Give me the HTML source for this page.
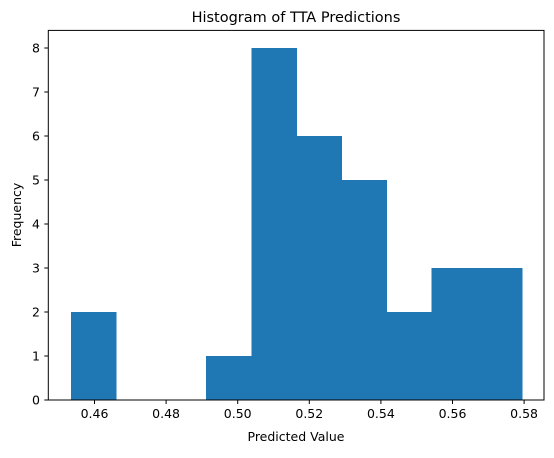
<!DOCTYPE html>
<html><head><meta charset="utf-8"><style>
body{margin:0;background:#fff}
svg text{font-family:"DejaVu Sans","Liberation Sans",sans-serif;fill:#000}
</style></head><body>
<svg id="c" width="554" height="453" viewBox="0 0 554 453">
<rect x="0" y="0" width="554" height="453" fill="#fff"/>
<text x="296" y="22" font-size="14.5" text-anchor="middle">Histogram of TTA Predictions</text>
<text x="296" y="441" font-size="12.5" text-anchor="middle">Predicted Value</text>
<text x="0" y="0" font-size="12.5" text-anchor="middle" transform="translate(21,215) rotate(-90)">Frequency</text>
<g id="bars" shape-rendering="crispEdges"></g><g id="xt"></g><g id="yt"></g>
<rect x="48.3" y="30.4" width="495.7" height="369.6" fill="none" stroke="#000" stroke-width="1"/>
</svg>
<script>
const binStart=0.4534;
const binWidth=0.0126;
const counts=[2,0,0,1,8,6,5,2,3,3];
const xTicks=[0.46,0.48,0.50,0.52,0.54,0.56,0.58];
const xTickLabels=["0.46","0.48","0.50","0.52","0.54","0.56","0.58"];
const yTicks=[0,1,2,3,4,5,6,7,8];
const NS="http://www.w3.org/2000/svg";
const X=v=>94.5+(v-0.46)*3580;
const Y=v=>400-v*44;
const bars=document.getElementById('bars'),xt=document.getElementById('xt'),yt=document.getElementById('yt');
counts.forEach((c,i)=>{
 if(c<=0)return;
 const r=document.createElementNS(NS,'rect');
 const x0=X(binStart+i*binWidth),x1=X(binStart+(i+1)*binWidth);
 r.setAttribute('x',x0);r.setAttribute('width',x1-x0+0.5);
 r.setAttribute('y',Y(c));r.setAttribute('height',Y(0)-Y(c));
 r.setAttribute('fill','#1f77b4');
 
 
 bars.appendChild(r);
});
xTicks.forEach((t,i)=>{
 const l=document.createElementNS(NS,'line');
 l.setAttribute('x1',X(t));l.setAttribute('x2',X(t));l.setAttribute('y1',400);l.setAttribute('y2',404);l.setAttribute('stroke','#000');
 
 
 xt.appendChild(l);
 const tx=document.createElementNS(NS,'text');
 tx.setAttribute('x',X(t));tx.setAttribute('y',418);tx.setAttribute('font-size','12.5');tx.setAttribute('text-anchor','middle');
 tx.textContent=xTickLabels[i];
 
 
 xt.appendChild(tx);
});
yTicks.forEach(t=>{
 const l=document.createElementNS(NS,'line');
 l.setAttribute('x1',44.3);l.setAttribute('x2',48.3);l.setAttribute('y1',Y(t));l.setAttribute('y2',Y(t));l.setAttribute('stroke','#000');
 
 
 yt.appendChild(l);
 const tx=document.createElementNS(NS,'text');
 tx.setAttribute('x',40);tx.setAttribute('y',Y(t)+4.5);tx.setAttribute('font-size','12.5');tx.setAttribute('text-anchor','end');
 tx.textContent=String(t);
 
 
 yt.appendChild(tx);
});
</script>
</body></html>
